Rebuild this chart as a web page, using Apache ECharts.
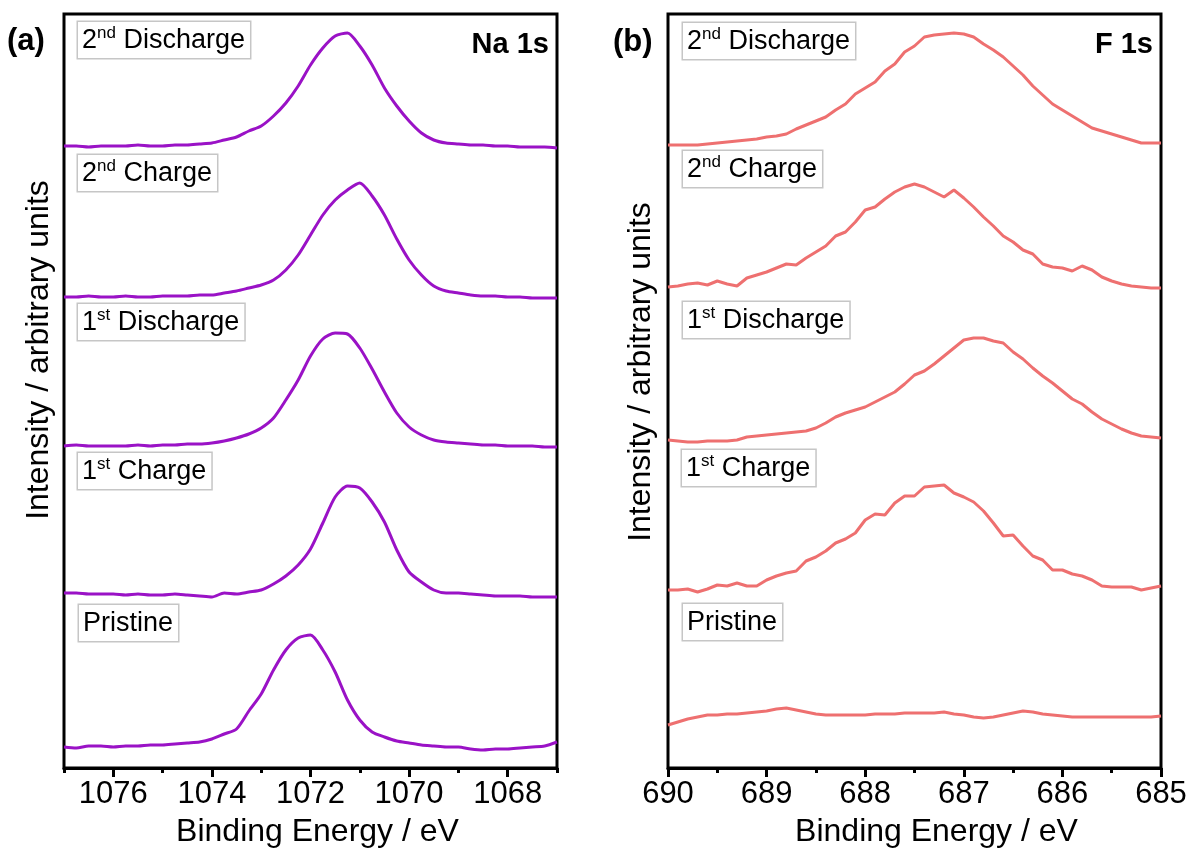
<!DOCTYPE html>
<html>
<head>
<meta charset="utf-8">
<script src="https://cdn.jsdelivr.net/npm/echarts/dist/echarts.min.js"></script>
<style>
  html, body { margin: 0; padding: 0; background: #fff; }
  #chart { width: 1192px; height: 854px; }
</style>
</head>
<body>
<div id="chart"></div>
<script>
  // ---- data ----
  var stages = ['Pristine', '1st Charge', '1st Discharge', '2nd Charge', '2nd Discharge']
  var stageLabels = ['Pristine', '1{sup|st} Charge', '1{sup|st} Discharge', '2{sup|nd} Charge', '2{sup|nd} Discharge']

  // Na 1s, binding energy (eV)
  var energyNa = [1077, 1076.75, 1076.5, 1076.25, 1076, 1075.75, 1075.5, 1075.25, 1075, 1074.75,
    1074.5, 1074.25, 1074, 1073.75, 1073.5, 1073.25, 1073, 1072.75, 1072.5, 1072.25,
    1072, 1071.75, 1071.5, 1071.25, 1071, 1070.75, 1070.5, 1070.25, 1070, 1069.75,
    1069.5, 1069.25, 1069, 1068.75, 1068.5, 1068.25, 1068, 1067.75, 1067.5, 1067.25, 1067]
  var naPristine = [0, -1, 1, 1, 0, 1, 1, 2, 2, 3, 4, 5, 8, 13, 18, 36, 53, 77, 97, 109,
    112, 97, 75, 47, 27, 15, 10, 6, 4, 2, 1, 0, 0, -2, -3, -2, -2, -1, 0, 1, 5]
  var naCharge1 = [2, 2, 1, 1, 1, 0, 1, 0, 0, 1, 0, -1, -2, 2, 1, 3, 5, 11, 19, 30,
    46, 72, 98, 109, 107, 93, 73, 45, 23, 13, 5, 2, 2, 1, 0, -1, -1, -1, -2, -2, -2]
  var naDischarge1 = [0, 1, 0, 0, 0, 0, 1, 0, 1, 1, 2, 2, 3, 5, 8, 12, 18, 28, 46, 66,
    90, 107, 113, 112, 98, 77, 54, 33, 19, 11, 6, 4, 3, 2, 1, 1, 0, 0, 0, -1, -1]
  var naCharge2 = [0, 0, 1, 0, 0, 1, 0, 0, 1, 1, 1, 2, 2, 4, 6, 9, 12, 17, 27, 42,
    62, 82, 97, 107, 114, 101, 82, 58, 37, 22, 11, 6, 4, 2, 1, 1, 0, 0, -1, -1, -1]
  var naDischarge2 = [0, 0, -1, 0, 0, 0, 1, 0, 0, 1, 1, 2, 3, 6, 9, 15, 20, 30, 43, 60,
    81, 98, 110, 113, 100, 81, 58, 40, 25, 13, 6, 3, 2, 1, 1, 0, 0, -1, -1, -1, -2]
  var naOffsets = [21, 173, 322, 471, 622]

  // F 1s, binding energy (eV)
  var energyF = [690, 689.9, 689.8, 689.7, 689.6, 689.5, 689.4, 689.3, 689.2, 689.1,
    689, 688.9, 688.8, 688.7, 688.6, 688.5, 688.4, 688.3, 688.2, 688.1,
    688, 687.9, 687.8, 687.7, 687.6, 687.5, 687.4, 687.3, 687.2, 687.1,
    687, 686.9, 686.8, 686.7, 686.6, 686.5, 686.4, 686.3, 686.2, 686.1,
    686, 685.9, 685.8, 685.7, 685.6, 685.5, 685.4, 685.3, 685.2, 685.1, 685]
  var fPristine = [-8, -5, -2, 0, 2, 2, 3, 3, 4, 5, 6, 8, 9, 7, 5, 3, 2, 2, 2, 2,
    2, 3, 3, 3, 4, 4, 4, 4, 5, 3, 2, 0, -1, 0, 2, 4, 6, 5, 3, 2,
    1, 0, 0, 0, 0, 0, 0, 0, 0, 0, 1]
  var fCharge1 = [0, 0, 1, -2, 1, 5, 4, 7, 4, 4, 10, 14, 17, 19, 29, 33, 39, 47, 51, 57,
    70, 76, 75, 87, 94, 94, 103, 104, 105, 97, 93, 88, 79, 67, 54, 55, 44, 34, 30, 20,
    20, 16, 14, 10, 4, 3, 3, 3, 0, 2, 4]
  var fDischarge1 = [0, -1, -2, -2, -1, -1, -1, 0, 3, 4, 5, 6, 7, 8, 9, 12, 17, 23, 27, 30,
    33, 38, 43, 48, 56, 65, 69, 76, 84, 92, 100, 102, 102, 99, 97, 88, 81, 72, 64, 57,
    49, 41, 36, 28, 21, 16, 11, 7, 4, 3, 2]
  var fCharge2 = [0, 1, 3, 4, 2, 6, 3, 1, 9, 12, 15, 19, 23, 22, 29, 35, 41, 51, 55, 65,
    77, 80, 88, 95, 100, 103, 100, 95, 90, 97, 89, 80, 70, 61, 51, 45, 37, 33, 23, 20,
    19, 16, 21, 17, 10, 6, 3, 1, 0, -1, -1]
  var fDischarge2 = [0, 0, 0, 0, 1, 2, 3, 4, 5, 6, 8, 9, 11, 16, 20, 24, 28, 35, 41, 51,
    57, 63, 74, 81, 93, 99, 108, 110, 111, 112, 111, 108, 101, 95, 88, 79, 70, 59, 50, 41,
    35, 29, 23, 17, 14, 11, 8, 5, 2, 2, 2]
  var fOffsets = [51, 178, 328, 481, 623]

  var naMajorTicks = [1068, 1070, 1072, 1074, 1076]
  var naMinorTicks = [1067, 1069, 1071, 1073, 1075, 1077]

  // ---- chart ----
  var FONT = 'Liberation Sans, Arial, sans-serif'
  var naSpectra = [naPristine, naCharge1, naDischarge1, naCharge2, naDischarge2]
  var fSpectra = [fPristine, fCharge1, fDischarge1, fCharge2, fDischarge2]

  function buildSeries(energy, spectra, offsets, xIdx, yIdx, color, smooth) {
    return spectra.map(function (s, i) {
      return {
        name: stages[i],
        type: 'line',
        xAxisIndex: xIdx,
        yAxisIndex: yIdx,
        showSymbol: false,
        silent: true,
        smooth: smooth,
        lineStyle: { color: color, width: 3 },
        data: energy.map(function (e, j) { return [e, s[j] + offsets[i]] })
      }
    })
  }

  var tickLine = { color: '#000', width: 3 }
  var labelStyle = {
    color: '#000', fontSize: 31, fontFamily: FONT, margin: 11,
    formatter: function (v) { return String(v) }
  }
  // the axis titles sit a little right of centre in the original
  var nameStyleA = { color: '#000', fontSize: 32, fontFamily: FONT, padding: [0, 0, 0, 14] }
  var nameStyleB = { color: '#000', fontSize: 32, fontFamily: FONT, padding: [0, 0, 0, 44] }

  // stage label boxes: [x, y] top-left per panel
  var boxPosA = [[79, 605], [78, 453], [78, 304], [78, 155], [78, 22]]
  var boxPosB = [[683, 604], [682, 450], [683, 302], [683, 151], [683, 23]]

  function stageBox(pos, i) {
    return {
      type: 'text',
      x: pos[0],
      y: pos[1],
      style: {
        text: stageLabels[i],
        fontSize: 27,
        fontFamily: FONT,
        fill: '#000',
        lineHeight: 31,
        align: 'left',
        verticalAlign: 'top',
        backgroundColor: '#fff',
        borderColor: '#c6c6c6',
        borderWidth: 1.5,
        padding: [3, 5, 2, 4],
        rich: {
          sup: { fontSize: 17, fontFamily: FONT, fill: '#000', verticalAlign: 'top' }
        }
      }
    }
  }

  var graphics = []
  boxPosA.forEach(function (p, i) { graphics.push(stageBox(p, i)) })
  boxPosB.forEach(function (p, i) { graphics.push(stageBox(p, i)) })
  graphics.push(
    { type: 'text', x: 7, y: 41, style: { text: '(a)', fontSize: 31, fontWeight: 'bold', fontFamily: FONT, fill: '#000', verticalAlign: 'middle' } },
    { type: 'text', x: 613, y: 42, style: { text: '(b)', fontSize: 31, fontWeight: 'bold', fontFamily: FONT, fill: '#000', verticalAlign: 'middle' } },
    { type: 'text', x: 549, y: 45, style: { text: 'Na 1s', fontSize: 29, fontWeight: 'bold', fontFamily: FONT, fill: '#000', align: 'right', verticalAlign: 'middle' } },
    { type: 'text', x: 1153, y: 45, style: { text: 'F 1s', fontSize: 29, fontWeight: 'bold', fontFamily: FONT, fill: '#000', align: 'right', verticalAlign: 'middle' } },
    { type: 'text', x: 39, y: 350, rotation: Math.PI / 2, style: { text: 'Intensity / arbitrary units', fontSize: 32, fontFamily: FONT, fill: '#000', align: 'center', verticalAlign: 'middle' } },
    { type: 'text', x: 641, y: 372, rotation: Math.PI / 2, style: { text: 'Intensity / arbitrary units', fontSize: 32, fontFamily: FONT, fill: '#000', align: 'center', verticalAlign: 'middle' } }
  )

  var chart = echarts.init(document.getElementById('chart'))
  chart.setOption({
    animation: false,
    backgroundColor: '#fff',
    grid: [
      { left: 64, top: 14, width: 493, height: 754, show: true, borderColor: '#000', borderWidth: 3 },
      { left: 668, top: 14, width: 493, height: 754, show: true, borderColor: '#000', borderWidth: 3 }
    ],
    xAxis: [
      {
        type: 'value', gridIndex: 0, min: 1067, max: 1077, interval: 1, inverse: true,
        name: 'Binding Energy / eV', nameLocation: 'middle', nameGap: 48, nameTextStyle: nameStyleA,
        axisLine: { show: true, lineStyle: tickLine },
        axisTick: { show: true, length: 9, lineStyle: tickLine, customValues: naMajorTicks },
        axisLabel: Object.assign({ customValues: naMajorTicks }, labelStyle),
        splitLine: { show: false }
      },
      {
        type: 'value', gridIndex: 0, min: 1067, max: 1077, interval: 1, inverse: true, position: 'bottom',
        axisLine: { show: false },
        axisTick: { show: true, length: 5, lineStyle: tickLine, customValues: naMinorTicks },
        axisLabel: { show: false },
        splitLine: { show: false }
      },
      {
        type: 'value', gridIndex: 1, min: 685, max: 690, interval: 1, inverse: true,
        name: 'Binding Energy / eV', nameLocation: 'middle', nameGap: 48, nameTextStyle: nameStyleB,
        axisLine: { show: true, lineStyle: tickLine },
        axisTick: { show: true, length: 9, lineStyle: tickLine },
        minorTick: { show: true, splitNumber: 2, length: 5, lineStyle: tickLine },
        axisLabel: Object.assign({ showMinLabel: true, showMaxLabel: true }, labelStyle),
        splitLine: { show: false }
      }
    ],
    yAxis: [
      { type: 'value', gridIndex: 0, min: 0, max: 754, show: false },
      { type: 'value', gridIndex: 1, min: 0, max: 754, show: false }
    ],
    series: buildSeries(energyNa, naSpectra, naOffsets, 0, 0, '#9a12c6', 0.25)
      .concat(buildSeries(energyF, fSpectra, fOffsets, 2, 1, '#ee7070', false)),
    graphic: graphics
  })
</script>
</body>
</html>
